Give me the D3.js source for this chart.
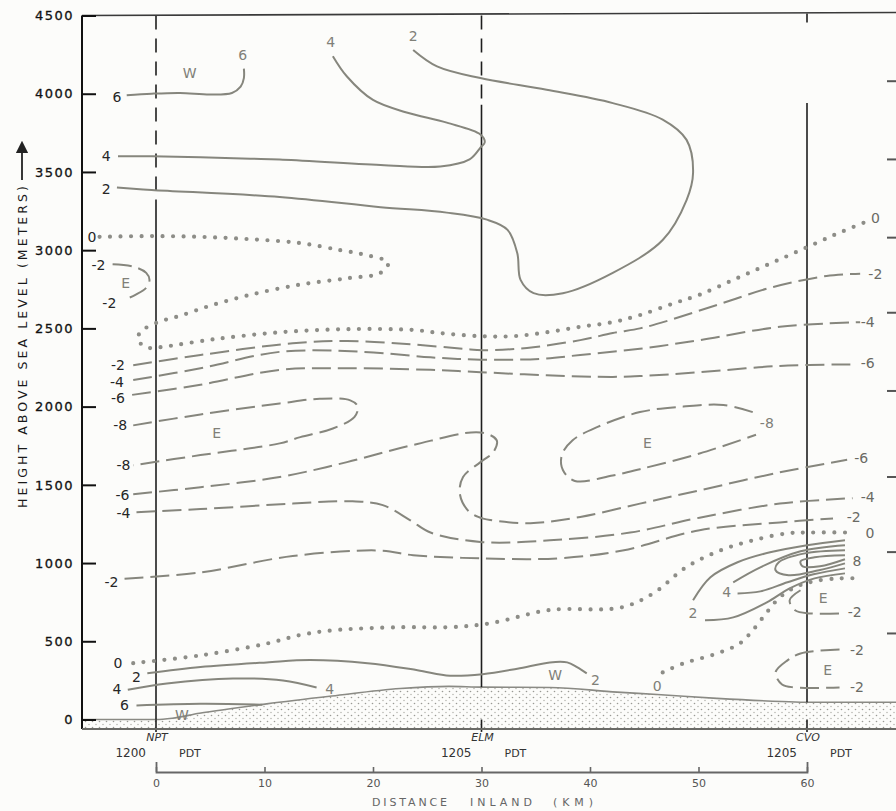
<!DOCTYPE html>
<html>
<head>
<meta charset="utf-8">
<script src="https://cdn.jsdelivr.net/npm/d3@7"></script>
<style>
body { margin: 0; background: #fcfcfa; }
svg { display: block; }
text { font-family: "DejaVu Sans", sans-serif; }
</style>
</head>
<body>
<div id="chart"></div>
<script>
// ---- axis values ----
const yTicks = [0, 500, 1000, 1500, 2000, 2500, 3000, 3500, 4000, 4500];
const xTicks = [0, 10, 20, 30, 40, 50, 60];
const stationNames = ["NPT", "ELM", "CVO"];
const stationKm = [0, 30, 60];
const stationTimes = ["1200", "1205", "1205"];
const stationDashTo = [3320, 3930, null];   // dashed part of the sounding line ends here (m)
const stationTop = [4500, 4500, 3940];
const rightEdgeTicks = [550, 1070, 1550, 2100, 2600, 3080, 3580, 4080];

// ---- terrain profile (km, m) ----
const groundKm = [-6.8, 0, 1.5, 4.0, 7.0, 10.2, 16.2, 22.5, 27.0, 30.0, 36.3, 42.5, 46.2, 51.7, 57.7, 60.2, 68.3];
const groundM  = [0, 0, 8, 40, 70, 100, 150, 198, 212, 207, 205, 175, 160, 135, 115, 110, 110];

// ---- contour lines, [km, m] ----
const pos6Top = [[-2.7,3990],[-0.4,4000],[2.2,4005],[5.0,3995],[7.0,4005],[7.8,4045],[8.1,4100],[8.1,4160]];
const pos4Top = [[-3.5,3600],[-0.4,3600],[8.7,3585],[11.4,3580],[20.7,3545],[26.2,3535],[28.9,3580],[29.9,3655],[30.3,3690],[29.9,3740],[26.8,3815],[23.1,3880],[20.0,3960],[17.6,4110],[16.3,4240]];
const pos2Top = [[-3.6,3400],[-0.4,3385],[11.4,3340],[20.7,3275],[26.8,3240],[30.5,3195],[32.4,3130],[33.3,2980],[33.6,2810],[34.8,2725],[37.5,2725],[42.1,2855],[46.7,3065],[48.9,3320],[49.5,3495],[48.9,3705],[46.7,3835],[42.1,3940],[36.0,4025],[29.9,4100],[25.9,4175],[23.7,4280]];
const zeroTop = [[-5.2,3085],[-0.6,3090],[4.1,3085],[8.7,3070],[13.3,3045],[17.0,3000],[19.3,2970],[21.4,2920],[20.7,2855],[17.6,2820],[13.3,2780],[8.7,2715],[5.0,2645],[2.2,2580],[0.2,2540],[-1.2,2490],[-1.7,2440],[-1.3,2395],[-0.6,2375],[0.4,2380],[5.3,2430],[11.4,2475],[17.6,2495],[23.7,2490],[26.2,2470],[29.9,2450],[32.9,2450],[36.0,2475],[39.1,2510],[42.1,2540],[44.6,2585],[47.7,2660],[50.1,2715],[53.2,2810],[56.3,2905],[59.4,3000],[62.6,3100],[65.4,3180]];
const negE2 = [[-4.0,2910],[-2.1,2895],[-0.9,2855],[-0.6,2810],[-0.9,2760],[-1.9,2715],[-3.0,2680]];
const neg2Band = [[-2.1,2265],[4.1,2330],[12.6,2405],[17.6,2420],[23.1,2400],[28.3,2370],[30.1,2360],[34.2,2375],[39.1,2425],[42.1,2470],[44.6,2500],[46.5,2535],[51.7,2650],[56.9,2765],[61.8,2835],[64.9,2850]];
const neg4Band = [[-2.1,2170],[4.1,2245],[11.4,2350],[19.1,2350],[25.3,2315],[29.9,2300],[35.4,2305],[39.1,2330],[44.6,2370],[50.1,2425],[57.5,2510],[64.9,2540]];
const neg6Band = [[-2.2,2075],[4.1,2140],[11.4,2235],[17.6,2245],[25.3,2235],[29.9,2220],[36.0,2200],[42.1,2190],[44.6,2195],[50.1,2220],[57.5,2260],[64.2,2270]];
const neg8Left = [[-2.1,1880],[4.1,1950],[11.4,2020],[15.1,2050],[17.9,2040],[18.6,2000],[18.3,1935],[16.3,1860],[13.3,1805],[11.4,1765],[4.1,1690],[-2.1,1625]];
const neg8Right = [[55.0,1965],[52.3,2010],[48.6,2000],[44.6,1965],[40.7,1870],[38.4,1785],[37.4,1690],[37.5,1595],[38.6,1525],[42.1,1560],[44.6,1600],[50.1,1700],[55.3,1820]];
const neg6Low = [[-2.1,1440],[4.1,1485],[11.4,1550],[17.6,1645],[23.7,1755],[29.9,1835],[31.4,1785],[31.1,1710],[29.9,1645],[28.3,1550],[28.0,1445],[28.7,1340],[29.7,1295],[30.8,1275],[34.5,1255],[39.1,1295],[44.6,1380],[50.1,1465],[57.5,1580],[63.7,1660]];
const neg4Low = [[-1.8,1325],[4.1,1345],[12.6,1380],[17.9,1395],[20.9,1370],[23.4,1275],[25.3,1195],[29.9,1135],[36.3,1145],[43.7,1195],[50.1,1290],[57.5,1380],[64.2,1415]];
const neg2Low = [[-2.9,900],[4.1,940],[12.6,1045],[20.7,1080],[23.7,1050],[29.9,1030],[37.0,1030],[43.0,1080],[50.1,1210],[57.5,1260],[62.4,1285]];
const zeroLow = [[-2.1,360],[4.1,410],[10.2,485],[13.3,540],[16.3,570],[22.5,590],[27.1,590],[30.8,615],[36.3,700],[42.8,715],[45.8,805],[48.9,975],[52.0,1080],[55.0,1145],[58.2,1190],[60.3,1195],[64.2,1195]];
const pos2Low = [[-0.8,295],[4.1,335],[10.2,365],[14.2,380],[19.5,360],[24.1,315],[27.1,280],[30.1,290],[33.3,325],[36.3,365],[37.9,365],[38.8,335],[39.7,295]];
const pos4Low = [[-2.6,190],[1.0,230],[7.1,262],[11.7,250],[14.8,205]];
const pos6Low = [[-1.8,90],[4.1,100],[9.8,95]];
const pos2CvoUp = [[49.5,762],[51.1,909],[53.6,1005],[56.6,1069],[60.0,1114],[63.5,1146]];
const pos2CvoLow = [[50.6,634],[53.2,653],[56.3,749],[58.4,838],[60.7,902],[63.5,934]];
const pos4CvoUp = [[53.2,877],[55.7,973],[59.4,1075],[63.5,1114]];
const pos4CvoLow = [[53.6,806],[55.7,819],[58.2,877],[60.6,928],[63.5,966]];
const pos6Cvo = [[63.5,1082],[59.8,1062],[57.4,1005],[57.1,954],[58.3,922],[61.1,954],[63.5,998]];
const pos8Cvo = [[63.5,1050],[60.7,1037],[59.4,1011],[59.6,979],[61.2,979],[63.5,1024]];
const negE2Cvo = [[59.4,826],[58.4,762],[58.9,698],[60.3,678],[63.0,678]];
const zeroCvo = [[46.7,301],[48.6,358],[51.7,422],[53.8,486],[55.0,570],[56.3,685],[57.5,781],[58.9,845],[60.6,883],[63.0,902],[64.9,902]];
const negE2Low = [[63.0,448],[59.4,422],[58.2,378],[57.1,301],[57.7,224],[58.9,205],[63.0,205]];

const contours = [
  { level: 6, pts: pos6Top }, { level: 4, pts: pos4Top }, { level: 2, pts: pos2Top },
  { level: 0, pts: zeroTop }, { level: -2, pts: negE2 },
  { level: -2, pts: neg2Band }, { level: -4, pts: neg4Band }, { level: -6, pts: neg6Band },
  { level: -8, pts: neg8Left }, { level: -8, pts: neg8Right },
  { level: -6, pts: neg6Low }, { level: -4, pts: neg4Low }, { level: -2, pts: neg2Low },
  { level: 0, pts: zeroLow }, { level: 2, pts: pos2Low }, { level: 4, pts: pos4Low }, { level: 6, pts: pos6Low },
  { level: 2, pts: pos2CvoUp }, { level: 2, pts: pos2CvoLow },
  { level: 4, pts: pos4CvoUp }, { level: 4, pts: pos4CvoLow },
  { level: 6, pts: pos6Cvo }, { level: 8, pts: pos8Cvo },
  { level: -2, pts: negE2Cvo }, { level: 0, pts: zeroCvo }, { level: -2, pts: negE2Low }
];

// ---- contour labels: text, km, m ----
const axisSideLabels = [
  ["6",-3.6,3980],["4",-4.6,3600],["2",-4.6,3390],["0",-5.9,3085],["-2",-5.3,2906],["-2",-4.3,2662],
  ["-2",-3.5,2266],["-4",-3.6,2157],["-6",-3.5,2054],["-8",-3.3,1882],["-8",-3.0,1626],
  ["-6",-3.1,1434],["-4",-3.0,1318],["-2",-4.1,877],["0",-3.5,358],["2",-1.8,269],["4",-3.6,192],["6",-2.9,90]
];
const innerLabels = [
  ["W",3.1,4130],["6",8.0,4250],["4",16.1,4333],["2",23.7,4371],["E",-2.8,2790],["E",5.6,1830],
  ["E",45.3,1766],["-8",56.3,1894],["W",36.8,282],["2",40.5,250],["4",16.0,198],["W",2.4,26],
  ["0",46.2,211],["2",49.5,678],["4",52.6,813],["E",61.5,774],["E",61.9,314]
];
const edgeLabels = [
  ["0",66.3,3206],["-2",66.3,2848],["-4",65.6,2541],["-6",65.6,2278],["-6",65.0,1670],["-4",65.6,1420],
  ["-2",64.3,1293],["0",65.8,1190],["8",64.6,1011],["-2",64.4,685],["-2",64.6,442],["-2",64.6,205]
];

// ---- layout ----
const W = 896, H = 811;
const AXIS_X = 82, RIGHT_X = 896, BASE_M = -60, DIST_AXIS_Y = 772;

const svg = d3.select("#chart").append("svg").attr("width", W).attr("height", H);

const x = d3.scaleLinear().domain([0, 60]).range([156, 807]);
const y = d3.scaleLinear().domain([0, 4500]).range([719.5, 15.5]);

const line = d3.line()
  .x(d => x(d[0]))
  .y(d => y(d[1]))
  .curve(d3.curveCatmullRom.alpha(0.5));

// stipple for the terrain
const defs = svg.append("defs");
const pat = defs.append("pattern").attr("id", "stipple")
  .attr("patternUnits", "userSpaceOnUse").attr("width", 7).attr("height", 6);
pat.append("circle").attr("cx", 1.5).attr("cy", 1.5).attr("r", 0.8).attr("fill", "#9a9a94");
pat.append("circle").attr("cx", 5).attr("cy", 4.5).attr("r", 0.7).attr("fill", "#aaa9a2");
defs.append("marker").attr("id", "arrow").attr("viewBox", "0 0 10 10")
  .attr("refX", 5).attr("refY", 5).attr("markerWidth", 7).attr("markerHeight", 7).attr("orient", "auto")
  .append("path").attr("d", "M0,0L10,5L0,10z").attr("fill", "#222");

// terrain
const ground = d3.zip(groundKm, groundM);
const area = d3.area().x(d => x(d[0])).y0(y(BASE_M)).y1(d => y(d[1])).curve(d3.curveMonotoneX);
svg.append("path").datum(ground).attr("d", area).attr("fill", "url(#stipple)");
svg.append("path").datum(ground)
  .attr("d", d3.line().x(d => x(d[0])).y(d => y(d[1])).curve(d3.curveMonotoneX))
  .attr("fill", "none").attr("stroke", "#8a8a84").attr("stroke-width", 1.6);

// sounding lines
const stations = stationNames.map((n, i) => ({
  name: n, km: stationKm[i], time: stationTimes[i], dashTo: stationDashTo[i], top: stationTop[i],
  ground: groundM[groundKm.findIndex(k => k >= stationKm[i])]
}));
const st = svg.append("g").attr("stroke", "#1e1e1e").attr("stroke-width", 1.6);
stations.forEach(s => {
  if (s.dashTo !== null) {
    st.append("line").attr("x1", x(s.km)).attr("x2", x(s.km))
      .attr("y1", y(s.top)).attr("y2", y(s.dashTo)).attr("stroke-dasharray", "14 9");
    st.append("line").attr("x1", x(s.km)).attr("x2", x(s.km))
      .attr("y1", y(s.dashTo)).attr("y2", y(s.ground));
  } else {
    st.append("line").attr("x1", x(s.km)).attr("x2", x(s.km))
      .attr("y1", y(s.top)).attr("y2", y(s.ground));
    st.append("line").attr("x1", x(s.km)).attr("x2", x(s.km))
      .attr("y1", y(4500) - 2).attr("y2", y(4500) + 7);
  }
  st.append("line").attr("x1", x(s.km)).attr("x2", x(s.km))
    .attr("y1", y(0)).attr("y2", y(BASE_M) + 3);
});

// contours
svg.append("g").selectAll("path").data(contours).join("path")
  .attr("d", d => line(d.pts))
  .attr("fill", "none")
  .attr("stroke", d => d.level === 0 ? "#8d8d87" : "#86867d")
  .attr("stroke-width", d => d.level === 0 ? 4.2 : 2)
  .attr("stroke-linecap", d => d.level === 0 ? "round" : "butt")
  .attr("stroke-dasharray", d => d.level === 0 ? "0 10.5" : d.level < 0 ? "19 7" : null);

// contour labels
function drawLabels(list, color, size) {
  svg.append("g").selectAll("text").data(list).join("text")
    .attr("x", d => x(d[1])).attr("y", d => y(d[2]))
    .attr("text-anchor", "middle").attr("dominant-baseline", "central")
    .attr("fill", color).attr("font-size", size)
    .text(d => d[0]);
}
drawLabels(axisSideLabels, "#262626", 14);
drawLabels(innerLabels, "#808078", 14);
drawLabels(edgeLabels, "#6a6a64", 14);

// frame
svg.append("line").attr("x1", AXIS_X).attr("x2", RIGHT_X).attr("y1", y(4500)).attr("y2", y(4500) - 3)
  .attr("stroke", "#3a3a3a").attr("stroke-width", 1.6);
svg.append("line").attr("x1", AXIS_X).attr("x2", AXIS_X).attr("y1", y(4500)).attr("y2", y(BASE_M))
  .attr("stroke", "#111").attr("stroke-width", 2);
svg.append("line").attr("x1", AXIS_X).attr("x2", RIGHT_X).attr("y1", y(BASE_M)).attr("y2", y(BASE_M))
  .attr("stroke", "#6a6a66").attr("stroke-width", 2);

// right edge ticks of the next panel
svg.append("g").selectAll("line").data(rightEdgeTicks).join("line")
  .attr("x1", RIGHT_X - 9).attr("x2", RIGHT_X).attr("y1", d => y(d)).attr("y2", d => y(d))
  .attr("stroke", "#555").attr("stroke-width", 2);

// height axis
const yAxis = svg.append("g").attr("transform", `translate(${AXIS_X},0)`)
  .call(d3.axisLeft(y).tickValues(yTicks).tickFormat(d3.format("d"))
    .tickSizeInner(-14).tickSizeOuter(0).tickPadding(8));
yAxis.select(".domain").remove();
yAxis.selectAll(".tick line").attr("stroke", "#111").attr("stroke-width", 2);
yAxis.selectAll(".tick text").attr("font-size", 13).attr("fill", "#111")
  .attr("font-family", "DejaVu Sans").attr("letter-spacing", 1.5)
  .attr("stroke", "#111").attr("stroke-width", 0.3);

svg.append("text")
  .attr("transform", "translate(27,508) rotate(-90)")
  .attr("textLength", 322).attr("lengthAdjust", "spacing")
  .attr("font-size", 12.5).attr("fill", "#1a1a1a")
  .text("HEIGHT ABOVE SEA LEVEL (METERS)");
svg.append("line").attr("x1", 22).attr("x2", 22).attr("y1", 180).attr("y2", 147)
  .attr("stroke", "#222").attr("stroke-width", 1.8).attr("marker-end", "url(#arrow)");

// distance axis
const xAxis = svg.append("g").attr("transform", `translate(0,${DIST_AXIS_Y})`)
  .call(d3.axisBottom(x).tickValues(xTicks).tickSizeInner(-5).tickSizeOuter(-10).tickPadding(7));
xAxis.select(".domain").attr("stroke", "#666").attr("stroke-width", 1.8);
xAxis.selectAll(".tick line").attr("stroke", "#666").attr("stroke-width", 1.6);
xAxis.selectAll(".tick text").attr("font-size", 11).attr("fill", "#555").attr("font-family", "DejaVu Sans");

const title = [["DISTANCE", 372, 75], ["INLAND", 470, 62], ["(KM)", 553, 40]];
svg.append("g").selectAll("text").data(title).join("text")
  .attr("x", d => d[1]).attr("y", 806).attr("textLength", d => d[2]).attr("lengthAdjust", "spacing")
  .attr("font-size", 11).attr("fill", "#666").text(d => d[0]);

// station annotations
const sl = svg.append("g").attr("fill", "#333");
stations.forEach(s => {
  sl.append("text").attr("x", x(s.km) + 1).attr("y", 741).attr("text-anchor", "middle")
    .attr("font-size", 11).attr("font-style", "italic").text(s.name);
  sl.append("text").attr("x", x(s.km) - 10).attr("y", 757).attr("text-anchor", "end")
    .attr("font-size", 12).text(s.time);
  sl.append("text").attr("x", x(s.km) + 23).attr("y", 757).attr("text-anchor", "start")
    .attr("font-size", 11).text("PDT");
});
</script>
</body>
</html>
